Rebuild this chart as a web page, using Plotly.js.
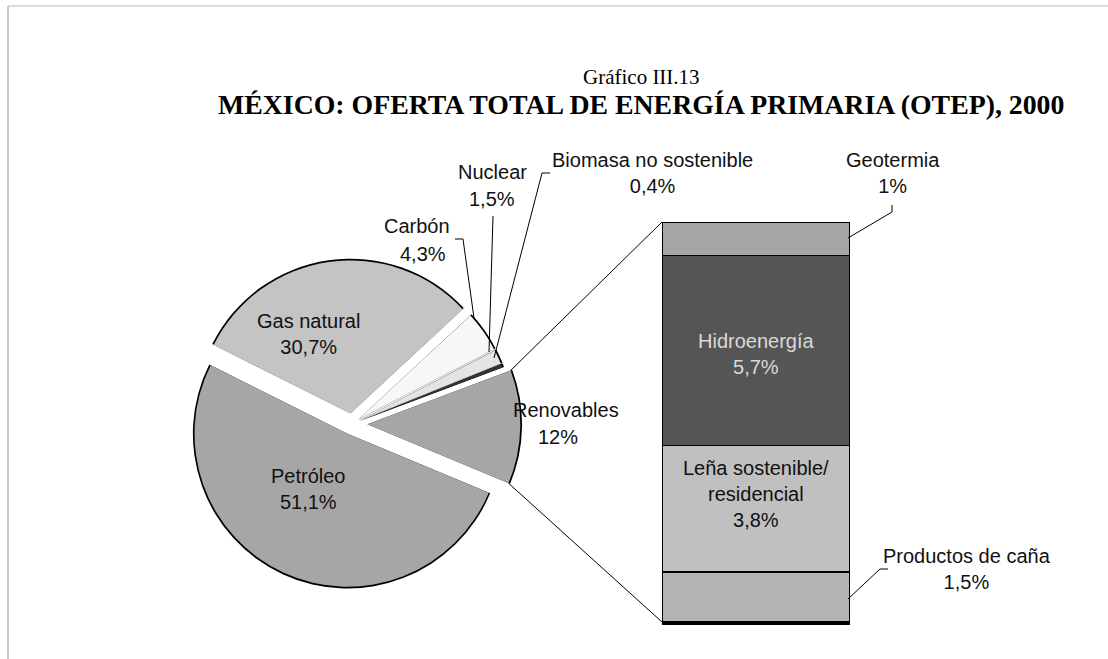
<!DOCTYPE html>
<html><head><meta charset="utf-8">
<script src="https://cdn.plot.ly/plotly-3.0.1.min.js"></script>
<style>html,body{margin:0;padding:0;background:#fff;} #chart{width:1108px;height:659px;}</style>
</head><body><div id="chart"></div>
<script>
// ---- data ----
const pieLabels = ['Gas natural', 'Carbón', 'Nuclear', 'Biomasa no sostenible', 'Renovables', 'Petróleo'];
const pieValues = [30.7, 4.3, 1.5, 0.4, 12, 51.1];
const pieText = ['30,7%', '4,3%', '1,5%', '0,4%', '12%', '51,1%'];
const barLabels = ['Productos de caña', 'Leña sostenible/<br>residencial', 'Hidroenergía', 'Geotermia'];
const barValues = [1.5, 3.8, 5.7, 1];
const barText = ['1,5%', '3,8%', '5,7%', '1%'];

// ---- styling ----
const W = 1108, H = 659;
const px = x => x / W, py = y => 1 - y / H;
const pieColors = ['#c4c4c4', '#f7f7f7', '#e4e4e4', '#333333', '#a6a6a6', '#a6a6a6'];
const piePull = [0.07, 0.05, 0.05, 0.05, 0.1, 0.07];
const barColors = ['#b3b3b3', '#c0c0c0', '#555555', '#a6a6a6'];
const cx = 352, cy = 424, r = 153, maxPull = 0.1, rot = -63.4;
function dom(rr) {
  const h = rr * (1 + maxPull);
  return {x: [px(cx - h), px(cx + h)], y: [py(cy + h), py(cy - h)]};
}
const pieCommon = {
  type: 'pie', labels: pieLabels, values: pieValues, sort: false,
  direction: 'clockwise', rotation: rot, pull: piePull,
  textinfo: 'none', hoverinfo: 'none', showlegend: false
};
const traces = [
  Object.assign({}, pieCommon, {domain: dom(r + 1.6), marker: {colors: pieLabels.map(() => '#000000')}}),
  Object.assign({}, pieCommon, {domain: dom(r), marker: {colors: pieColors}})
];
barValues.forEach((v, i) => {
  traces.push({
    type: 'bar', x: ['Renovables'], y: [v], name: barLabels[i],
    marker: {color: barColors[i], line: {color: '#000', width: 1.5}},
    hoverinfo: 'none', showlegend: false, xaxis: 'x', yaxis: 'y'
  });
});

// corners of the Renovables slice (computed from pie geometry) for the connector lines
const total = pieValues.reduce((a, b) => a + b, 0);
const renIdx = 4;
const before = pieValues.slice(0, renIdx).reduce((a, b) => a + b, 0);
const a0 = (90 - rot) - 360 * before / total;           // math degrees
const a1 = a0 - 360 * pieValues[renIdx] / total;
const amid = (a0 + a1) / 2 * Math.PI / 180;
const ox = cx + piePull[renIdx] * r * Math.cos(amid), oy = cy - piePull[renIdx] * r * Math.sin(amid);
const cornerTop = [ox + r * Math.cos(a0 * Math.PI / 180), oy - r * Math.sin(a0 * Math.PI / 180)];
const cornerBot = [ox + r * Math.cos(a1 * Math.PI / 180), oy - r * Math.sin(a1 * Math.PI / 180)];

const lbl = {family: 'Liberation Sans, Arial, sans-serif', size: 20, color: '#111'};
function ann(text, x, y, extra) {
  return Object.assign({text: text, x: px(x), y: py(y), xref: 'paper', yref: 'paper',
    showarrow: false, xanchor: 'center', yanchor: 'middle', font: lbl, align: 'center'}, extra || {});
}
const serif = 'Liberation Serif, Times New Roman, serif';
const annotations = [
  ann('Gráfico III.13', 641, 77, {font: {family: serif, size: 21, color: '#000'}}),
  ann('<b>MÉXICO: OFERTA TOTAL DE ENERGÍA PRIMARIA (OTEP), 2000</b>', 641, 104, {font: {family: serif, size: 27.8, color: '#000'}}),
  ann(pieLabels[2], 492, 172),
  ann(pieText[2], 492, 199),
  ann(pieLabels[1], 417, 226),
  ann(pieText[1], 423, 254),
  ann(pieLabels[3] + '<br>' + pieText[3], 652, 173),
  ann(barLabels[3] + '<br>' + barText[3], 893, 173),
  ann(pieLabels[0] + '<br>' + pieText[0], 308, 334),
  ann(pieLabels[5] + '<br>' + pieText[5], 308, 489),
  ann(pieLabels[4], 566, 410),
  ann(pieText[4], 558, 437),
  ann(barLabels[2] + '<br>' + barText[2], 756, 354, {font: Object.assign({}, lbl, {color: '#d9d9d9'})}),
  ann(barLabels[1] + '<br>' + barText[1], 756, 494),
  ann(barLabels[0] + '<br>' + barText[0], 967, 569)
];

function path(pts) {
  return pts.map((p, i) => (i ? 'L ' : 'M ') + px(p[0]) + ' ' + py(p[1])).join(' ');
}
function line(pts, color, width) {
  return {type: 'path', xref: 'paper', yref: 'paper', path: path(pts), line: {color: color || '#000', width: width || 1}};
}
const shapes = [
  line([[8, 6], [1108, 6]], '#dcdcdc', 2),
  line([[8, 6], [8, 659]], '#c8c8c8', 2),
  line([cornerTop, [662, 222]]),
  line([cornerBot, [662, 622]]),
  line([[455, 239], [463, 239], [474, 318]]),
  line([[493, 216], [489, 352]]),
  line([[550, 173], [542, 173], [494, 358]]),
  line([[892, 205], [892, 212], [848, 238]]),
  line([[888, 569], [880, 569], [848, 599]])
];

const layout = {
  width: W, height: H, margin: {l: 0, r: 0, t: 0, b: 0},
  paper_bgcolor: '#fff', plot_bgcolor: 'rgba(0,0,0,0)',
  barmode: 'stack', bargap: 0,
  xaxis: {domain: [px(662), px(850)], showline: true, linecolor: '#000', linewidth: 3,
    showticklabels: false, showgrid: false, zeroline: false, ticks: '', fixedrange: true},
  yaxis: {domain: [py(622), py(222)], range: [0, 12], visible: false, fixedrange: true},
  annotations: annotations, shapes: shapes, showlegend: false
};
Plotly.newPlot('chart', traces, layout, {staticPlot: true, displayModeBar: false});
</script></body></html>
